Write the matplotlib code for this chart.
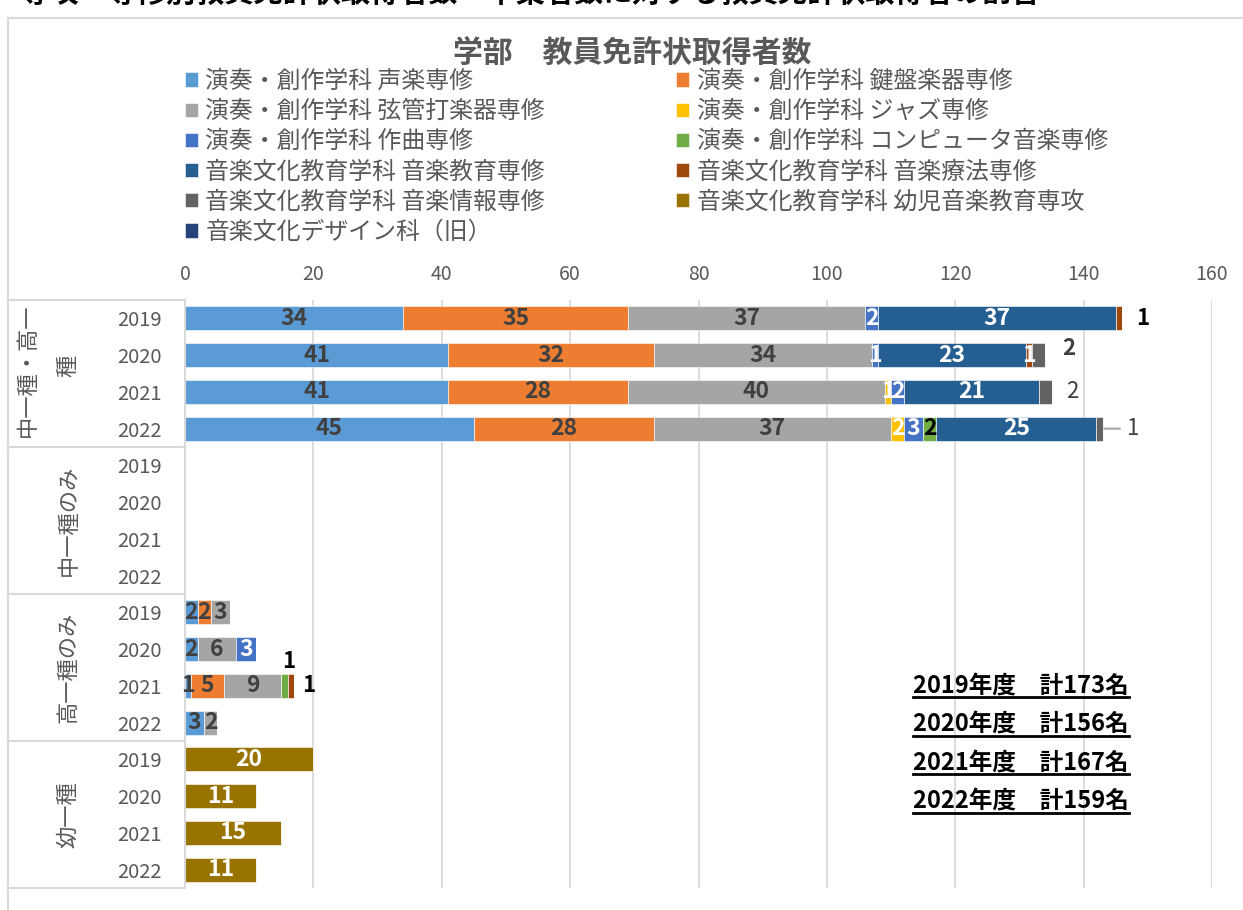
import matplotlib
matplotlib.use("Agg")
import matplotlib.pyplot as plt
from matplotlib.patches import Patch, Rectangle
from matplotlib.lines import Line2D
from matplotlib import transforms

plt.rcParams['font.family'] = ['Noto Sans CJK JP', 'DejaVu Sans']

W, H = 1243, 910

groups = ['中一種・高一種', '中一種のみ', '高一種のみ', '幼一種']
years = ['2019', '2020', '2021', '2022']

series = ['演奏・創作学科 声楽専修', '演奏・創作学科 鍵盤楽器専修', '演奏・創作学科 弦管打楽器専修',
          '演奏・創作学科 ジャズ専修', '演奏・創作学科 作曲専修', '演奏・創作学科 コンピュータ音楽専修',
          '音楽文化教育学科 音楽教育専修', '音楽文化教育学科 音楽療法専修', '音楽文化教育学科 音楽情報専修',
          '音楽文化教育学科 幼児音楽教育専攻', '音楽文化デザイン科（旧）']
colors = ['#5B9BD5', '#ED7D31', '#A5A5A5', '#FFC000', '#4472C4', '#70AD47',
          '#255E91', '#9E480E', '#636363', '#997300', '#264478']
label_colors = ['#404040', '#404040', '#404040', 'white', 'white', 'black',
                'white', 'white', '#404040', 'white', 'white']

# 16 rows: 4 groups x 4 years
seigaku      = [34, 41, 41, 45,  0, 0, 0, 0,  2, 2, 1, 3,  0, 0, 0, 0]
kenban       = [35, 32, 28, 28,  0, 0, 0, 0,  2, 0, 5, 0,  0, 0, 0, 0]
genkan       = [37, 34, 40, 37,  0, 0, 0, 0,  3, 6, 9, 2,  0, 0, 0, 0]
jazz         = [0, 0, 1, 2,  0, 0, 0, 0,  0, 0, 0, 0,  0, 0, 0, 0]
sakkyoku     = [2, 1, 2, 3,  0, 0, 0, 0,  0, 3, 0, 0,  0, 0, 0, 0]
computer     = [0, 0, 0, 2,  0, 0, 0, 0,  0, 0, 1, 0,  0, 0, 0, 0]
ongakukyoiku = [37, 23, 21, 25,  0, 0, 0, 0,  0, 0, 0, 0,  0, 0, 0, 0]
ryoho        = [1, 1, 0, 0,  0, 0, 0, 0,  0, 0, 1, 0,  0, 0, 0, 0]
joho         = [0, 2, 2, 1,  0, 0, 0, 0,  0, 0, 0, 0,  0, 0, 0, 0]
yoji         = [0, 0, 0, 0,  0, 0, 0, 0,  0, 0, 0, 0,  20, 11, 15, 11]
design       = [0, 0, 0, 0,  0, 0, 0, 0,  0, 0, 0, 0,  0, 0, 0, 0]
values = [seigaku, kenban, genkan, jazz, sakkyoku, computer,
          ongakukyoiku, ryoho, joho, yoji, design]

totals = ['2019年度　計173名', '2020年度　計156名', '2021年度　計167名', '2022年度　計159名']

# labels moved out of their segment: (row, series) -> (dx px, dy px, color, weight)
moved = {(0, 7): (14, 0, 'black', 'bold'),
         (1, 8): (17, 7, '#404040', 'bold'),
         (2, 8): (15, 0, '#404040', 'normal'),
         (3, 8): (24, 0, '#404040', 'normal'),
         (10, 5): (-6, 24, 'black', 'bold'),
         (10, 7): (8, 0, 'black', 'bold')}

fig = plt.figure(figsize=(W / 100, H / 100), dpi=100)
ax = fig.add_axes([185 / W, 1 - 888 / H, (1212 - 185) / W, (888 - 300) / H])

rows = list(range(16))
left = [0] * 16
for s, vals in enumerate(values):
    ax.barh(rows, vals, left=left, height=0.65, color=colors[s], label=series[s],
            edgecolor='white', linewidth=0.4, zorder=2)
    for r, v in enumerate(vals):
        if v <= 0:
            continue
        if (r, s) in moved:
            dx, dy, c, wt = moved[(r, s)]
            arrow = None
            if (r, s) == (3, 8):
                arrow = dict(arrowstyle='-', color='#A5A5A5', lw=1.5, shrinkA=3, shrinkB=1)
            ax.annotate(str(v), xy=(left[r] + v, r), xytext=(dx, dy), textcoords='offset pixels',
                        ha='left', va='center', fontsize=16, color=c, fontweight=wt,
                        arrowprops=arrow, zorder=4)
        else:
            ax.text(left[r] + v / 2, r, str(v), ha='center', va='center', fontsize=16.5,
                    color=label_colors[s], fontweight='bold', zorder=3)
        left[r] += v

ax.set_xlim(0, 160)
ax.set_ylim(15.5, -0.5)
ax.xaxis.tick_top()
ax.set_xticks(range(0, 161, 20))
ax.set_yticks(rows)
ax.set_yticklabels(years * 4)
ax.tick_params(axis='x', length=0, pad=11, labelsize=14, labelcolor='#595959')
ax.tick_params(axis='y', length=0, pad=17, labelsize=14.5, labelcolor='#595959')
ax.grid(axis='x', color='#D9D9D9', linewidth=1.3, zorder=0)
ax.set_axisbelow(True)
for sp in ['top', 'right', 'bottom']:
    ax.spines[sp].set_visible(False)
ax.spines['left'].set_color('#D9D9D9')
ax.spines['left'].set_linewidth(1.5)

# category axis boxes
blend = transforms.blended_transform_factory(fig.transFigure, ax.transData)
for yb in [-0.5, 3.5, 7.5, 11.5, 15.5]:
    ax.add_line(Line2D([8 / W, 185 / W], [yb, yb], transform=blend, color='#D9D9D9',
                       lw=1.5, clip_on=False))
for g, name in enumerate(groups):
    yc = g * 4 + 1.5
    if g == 0:
        ax.text(27 / W, yc - 0.1, name[:-1], transform=blend, rotation=90, ha='center',
                va='center', fontsize=16, color='#595959')
        ax.text(68 / W, yc - 0.2, name[-1], transform=blend, rotation=90, ha='center',
                va='center', fontsize=16, color='#595959')
    else:
        ax.text(68 / W, yc, name, transform=blend, rotation=90, ha='center', va='center',
                fontsize=16, color='#595959')

# chart frame
fig.add_artist(Rectangle((8 / W, -0.1), 2, 1.1 - 18 / H, transform=fig.transFigure,
                         fill=False, edgecolor='#D9D9D9', lw=1.5))

fig.text(1040 / W, 1 - 2 / H, '3）専攻・専修別教員免許状取得者数・卒業者数に対する教員免許状取得者の割合',
         ha='right', va='baseline', fontsize=21, fontweight='bold', color='black')
fig.text(632 / W, 1 - 54 / H, '学部　教員免許状取得者数', ha='center', va='center',
         fontsize=21.5, fontweight='bold', color='#595959')

handles, labels = ax.get_legend_handles_labels()
order = [0, 2, 4, 6, 8, 10, 1, 3, 5, 7, 9]
fig.legend([handles[i] for i in order], [labels[i] for i in order], ncol=2,
           loc='upper left', bbox_to_anchor=(185 / W, 1 - 70 / H), frameon=False,
           fontsize=17.2, labelcolor='#595959', handlelength=0.55, handleheight=0.55,
           handletextpad=0.3, columnspacing=5.5, labelspacing=0.3,
           borderaxespad=0, borderpad=0)

tt = []
for i, t in enumerate(totals):
    tt.append(fig.text(913 / W, 1 - (693 + 38.5 * i) / H, t, ha='left', va='baseline',
                       fontsize=17, fontweight='bold', color='black'))
fig.canvas.draw()
for t in tt:
    bb = t.get_window_extent()
    fig.add_artist(Line2D([bb.x0 / W, bb.x1 / W], [(bb.y0 + 1) / H, (bb.y0 + 1) / H],
                          transform=fig.transFigure, color='black', lw=2))

fig.savefig('out.png', dpi=100)
